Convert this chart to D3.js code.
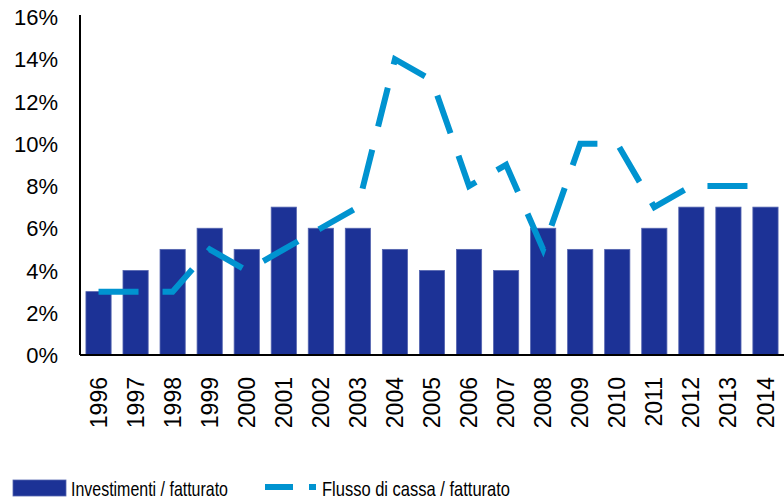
<!DOCTYPE html>
<html>
<head>
<meta charset="utf-8">
<script src="https://cdn.jsdelivr.net/npm/d3@7"></script>
<style>
  body { margin: 0; background: #fff; }
  text { font-family: "Liberation Sans", Arial, sans-serif; fill: #000; }
</style>
</head>
<body>
<div id="chart"></div>
<script>
var years = ["1996","1997","1998","1999","2000","2001","2002","2003","2004","2005","2006","2007","2008","2009","2010","2011","2012","2013","2014"];
var investimenti = [3,4,5,6,5,7,6,6,5,4,5,4,6,5,5,6,7,7,7];
var flusso = [3,3,3,5,4,5,6,7,14,13,8,9,5,10,10,7,8,8,8];
var yTicks = [0,2,4,6,8,10,12,14,16];

var width = 784, height = 500;
var mLeft = 80, mRight = 784, mTop = 17, mBottom = 355;

var svg = d3.select("#chart").append("svg")
    .attr("width", width)
    .attr("height", height);

var x = d3.scaleBand()
    .domain(years)
    .range([mLeft, mRight])
    .paddingInner(0.32)
    .paddingOuter(0.16);

var y = d3.scaleLinear()
    .domain([0, 16])
    .range([mBottom, mTop]);

// bars
svg.append("g").selectAll("rect")
    .data(investimenti)
    .enter().append("rect")
    .attr("x", function(d, i) { return x(years[i]); })
    .attr("y", function(d) { return y(d); })
    .attr("width", x.bandwidth())
    .attr("height", function(d) { return mBottom - y(d); })
    .attr("fill", "#1c3296")
    .attr("stroke", "#5565b0")
    .attr("stroke-width", 0.8);

// line
var line = d3.line()
    .x(function(d, i) { return x(years[i]) + x.bandwidth() / 2; })
    .y(function(d) { return y(d); });

svg.append("path")
    .datum(flusso)
    .attr("d", line)
    .attr("fill", "none")
    .attr("stroke", "#0093d0")
    .attr("stroke-width", 6)
    .attr("stroke-dasharray", "40,24");

// y axis
var yAxis = svg.append("g")
    .attr("transform", "translate(" + mLeft + ",0)")
    .call(d3.axisLeft(y).tickValues(yTicks).tickSize(0).tickPadding(22)
        .tickFormat(function(d) { return d + "%"; }));
yAxis.select(".domain").attr("stroke", "#000").attr("stroke-width", 2)
    .attr("d", "M0," + (mTop - 2) + "V" + mBottom);
yAxis.selectAll("text").style("font-size", "22px").attr("dy", "0.35em")
    .style("font-family", "'Liberation Sans', Arial, sans-serif");

// x axis
var xAxis = svg.append("g")
    .attr("transform", "translate(0," + mBottom + ")")
    .call(d3.axisBottom(x).tickSize(0).tickPadding(0));
xAxis.select(".domain").attr("stroke", "#000").attr("stroke-width", 2)
    .attr("d", "M" + mLeft + ",0H" + mRight);
xAxis.selectAll("text")
    .style("font-size", "23px")
    .style("font-family", "'Liberation Sans', Arial, sans-serif")
    .attr("text-anchor", "end")
    .attr("transform", "rotate(-90)")
    .attr("x", -22)
    .attr("y", 0)
    .attr("dy", "0.35em");

// legend
var legend = svg.append("g");
legend.append("rect")
    .attr("x", 13).attr("y", 480).attr("width", 53).attr("height", 16)
    .attr("fill", "#1c3296").attr("stroke", "#5565b0").attr("stroke-width", 0.8);
legend.append("text")
    .attr("x", 71).attr("y", 496)
    .style("font-size", "21px")
    .attr("textLength", 157)
    .attr("lengthAdjust", "spacingAndGlyphs")
    .text("Investimenti / fatturato");
legend.append("line")
    .attr("x1", 265).attr("x2", 316).attr("y1", 487).attr("y2", 487)
    .attr("stroke", "#0093d0").attr("stroke-width", 6)
    .attr("stroke-dasharray", "28,16");
legend.append("text")
    .attr("x", 322).attr("y", 496)
    .style("font-size", "21px")
    .attr("textLength", 188)
    .attr("lengthAdjust", "spacingAndGlyphs")
    .text("Flusso di cassa / fatturato");
</script>
</body>
</html>
